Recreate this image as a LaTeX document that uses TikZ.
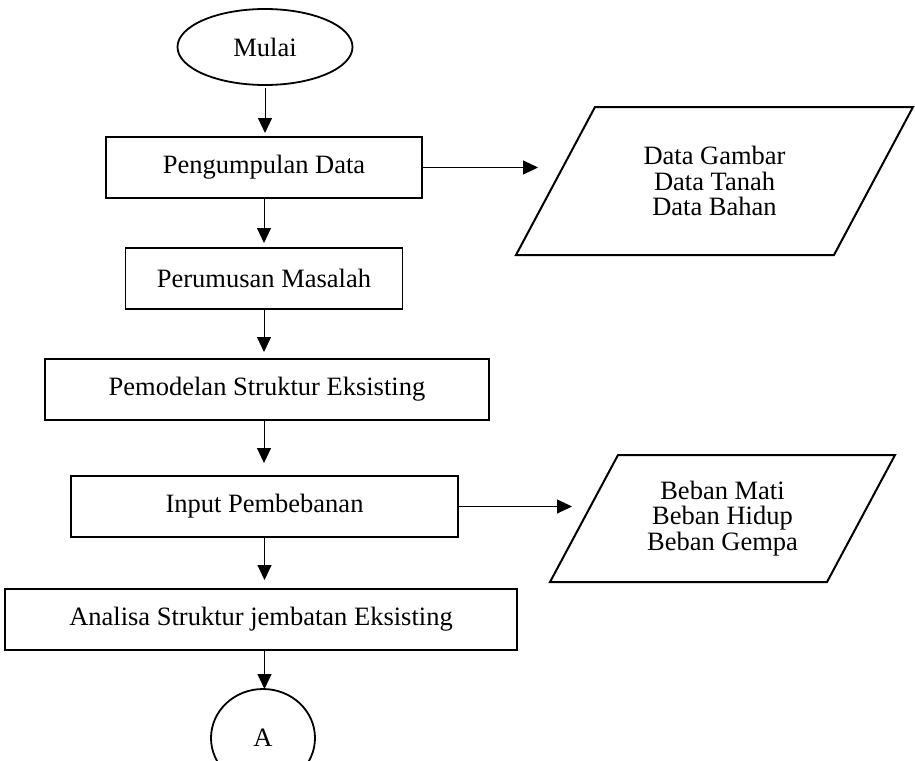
\documentclass[tikz,border=0pt]{standalone}
\usepackage{fontspec}
\setmainfont{Liberation Serif}
\usetikzlibrary{arrows.meta, positioning, shapes.geometric, calc}

\begin{document}
\begin{tikzpicture}[
    x=1pt, y=1pt,
    font=\fontsize{26.5}{25.5}\selectfont,
    >={Triangle[length=15pt, width=14pt]},
    terminal/.style = {ellipse, draw, line width=1.8pt, inner sep=0pt, outer sep=0pt},
    process/.style = {rectangle, draw, line width=1.5pt, minimum height=61pt, inner sep=0pt, outer sep=0pt},
    data/.style = {rectangle, align=center, inner sep=0pt, outer sep=0pt},
    databorder/.style = {draw, line width=2pt, line join=miter},
    arrow/.style = {draw, ->, line width=1pt}
]
    \useasboundingbox (0,0) rectangle (915,-760);
    \node [terminal, minimum width=175pt, minimum height=76pt] (mulai) at (265,-47) {Mulai};
    \node [process, minimum width=316pt, below=52pt of mulai, xshift=-1pt] (kumpul) {Pengumpulan Data};
    \node [process, minimum width=277pt, below=50pt of kumpul] (rumus) {Perumusan Masalah};
    \node [process, minimum width=444pt, below=50pt of rumus, xshift=3pt] (model) {Pemodelan Struktur Eksisting};
    \node [process, minimum width=387pt, below=56pt of model, xshift=-2.5pt] (input) {Input Pembebanan};
    \node [process, minimum width=512pt, below=52pt of input, xshift=-3.5pt] (analisa) {Analisa Struktur jembatan Eksisting};
    \node [terminal, minimum width=104pt, minimum height=98pt, below=39pt of analisa, xshift=2pt] (A) {A};
    \node [data, minimum width=318pt, minimum height=148pt, right=133.5pt of kumpul, yshift=-13.5pt] (data1) {Data Gambar\\Data Tanah\\Data Bahan};
    \node [data, minimum width=277pt, minimum height=127pt, right=126pt of input, yshift=-12pt] (data2) {Beban Mati\\Beban Hidup\\Beban Gempa};

    % parallelogram outlines
    \draw [databorder] ($(data1.south west)+(-39.5,0)$) -- ($(data1.south east)+(-39.5,0)$) -- ($(data1.north east)+(39.5,0)$) -- ($(data1.north west)+(39.5,0)$) -- cycle;
    \draw [databorder] ($(data2.south west)+(-34,0)$) -- ($(data2.south east)+(-34,0)$) -- ($(data2.north east)+(34,0)$) -- ($(data2.north west)+(34,0)$) -- cycle;

    \draw [arrow, shorten <=3pt, shorten >=4pt] (mulai) -- (mulai |- kumpul.north);
    \draw [arrow, shorten >=5pt] (kumpul) -- (kumpul |- rumus.north);
    \draw [arrow, shorten >=7pt] (rumus) -- (rumus |- model.north);
    \draw [arrow, shorten >=13pt] (rumus |- model.south) -- (rumus |- input.north);
    \draw [arrow, shorten >=9pt] (input) -- (input |- analisa.north);
    \draw [arrow] (input |- analisa.south) -- (input |- A.north);
    \draw [arrow, shorten >=17.5pt] (kumpul.east) -- (kumpul.east -| data1.west);
    \draw [arrow, shorten >=12pt] (input.east) -- (input.east -| data2.west);
\end{tikzpicture}
\end{document}
